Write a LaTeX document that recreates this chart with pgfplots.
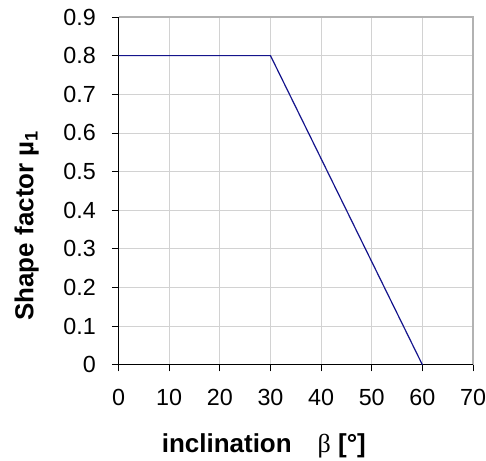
\documentclass[border=0pt]{standalone}
\usepackage{pgfplots}
\pgfplotsset{compat=1.18}
\usepackage{fontspec}
\setmainfont{Liberation Sans}
\newfontfamily\serifb{Liberation Serif}
\definecolor{navy}{RGB}{20,20,140}
\begin{document}
\begin{tikzpicture}
\begin{axis}[
  name=ax,
  width=266pt, height=261pt, scale only axis,
  xmin=0, xmax=70, ymin=0, ymax=0.9,
  xtick={0,10,...,70}, ytick={0,0.1,...,0.9},
  yticklabels={0,0.1,0.2,0.3,0.4,0.5,0.6,0.7,0.8,0.9},
  grid=major, major grid style={gray!35, line width=0.6pt},
  axis line style={draw=none},
  tick style={black, line width=0.6pt}, tick align=outside,
  major tick length=5pt,
  xtick pos=bottom, ytick pos=left,
  /pgf/number format/assume math mode=true,
  yticklabel style={font=\fontsize{17.5}{19}\selectfont, xshift=-8.5pt},
  xticklabel style={font=\fontsize{17.5}{19}\selectfont, yshift=-10pt},
  xlabel={\textbf{inclination}\quad{\serifb β} \textbf{[°]}},
  ylabel={\textbf{Shape factor µ\textsubscript{1}}},
  label style={font=\fontsize{19.5}{22}\selectfont},
  xlabel style={at={([shift={(-24pt,-61pt)}]axis description cs:0.5,0)}, anchor=center},
  ylabel style={at={([shift={(-69pt,-26pt)}]axis description cs:0,0.5)}, anchor=center},
  clip=false,
]
\draw[gray!60, line width=0.8pt] (axis cs:0,0.9) -- (axis cs:70,0.9) -- (axis cs:70,0);
\draw[black, line width=0.8pt] (axis cs:0,0.9) -- (axis cs:0,0) -- (axis cs:70,0);
\addplot[navy, line width=0.9pt] coordinates {(0,0.8) (30,0.8) (60,0)};
\end{axis}
\pgfresetboundingbox
\path ([shift={(-89pt,-72pt)}]ax.south west) rectangle ([shift={(9.75pt,12.75pt)}]ax.north east);
\end{tikzpicture}
\end{document}
